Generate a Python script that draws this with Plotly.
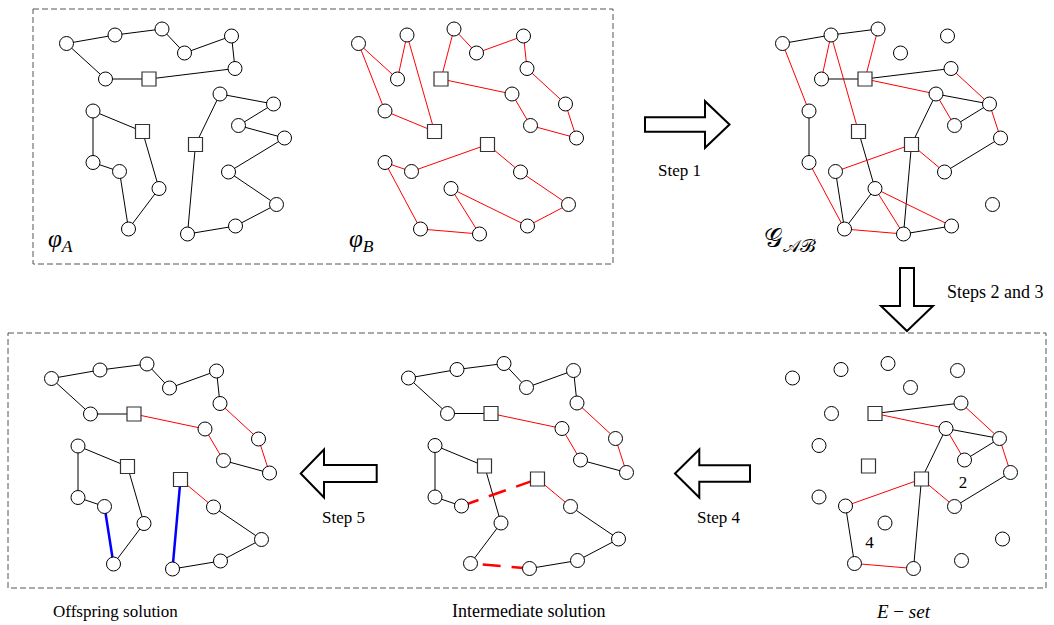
import plotly.graph_objects as go

# ---------------- data ----------------
# customer nodes (coordinates inside one panel, pixels)
cust_names = ["A1", "A2", "A3", "A4", "A5", "A6", "A7",
              "B1", "B2", "B3", "B4", "B5",
              "C1", "C2", "C3", "C4", "C5", "C6", "C7", "C8"]
cust_x = [66.5, 115, 162, 184.5, 231.5, 235, 105.5,
          93, 93, 119.5, 159, 128.5,
          220, 273.5, 238.5, 284.5, 228.5, 276.5, 235.5, 187.5]
cust_y = [43.5, 35, 29, 53, 36, 68.5, 79,
          111, 162.5, 171.5, 188.5, 229,
          94, 104, 125.5, 138, 172, 204.5, 226, 234]
# depots
depot_names = ["SA1", "SA2", "SA3"]
depot_x = [149, 142.5, 195.5]
depot_y = [79, 131.5, 144.5]

# panels and their offsets
panel_names = ["phiA", "phiB", "G", "E", "I", "O"]
panel_dx = [0, 292, 716, 726, 342, -15]
panel_dy = [0, 0, 0, 334.5, 334.5, 335]

# parent solutions (routes)
routes_A = [["SA1", "A6", "A5", "A4", "A3", "A2", "A1", "A7", "SA1"],
            ["SA2", "B1", "B2", "B3", "B5", "B4", "SA2"],
            ["SA3", "C1", "C2", "C3", "C4", "C5", "C6", "C7", "C8", "SA3"]]
routes_B = [["SA2", "B1", "A1", "A7", "A2", "SA2"],
            ["SA1", "A3", "A4", "A5", "A6", "C2", "C4", "C3", "C1", "SA1"],
            ["SA3", "C5", "C6", "C7", "B4", "C8", "B5", "B2", "B3", "SA3"]]

# E-set edges
eset_black = [("SA1", "A6"), ("C1", "C2"), ("C3", "C2"), ("C4", "C5"),
              ("SA3", "C1"), ("B3", "B5"), ("C8", "SA3")]
eset_red = [("A6", "C2"), ("SA1", "C1"), ("C1", "C3"), ("C2", "C4"),
            ("C5", "SA3"), ("SA3", "B3"), ("B5", "C8")]
eset_labels = ["2", "4"]
eset_label_x = [237, 143.5]
eset_label_y = [149.5, 209.5]

# intermediate solution edges
inter_black = [("SA1", "A7"), ("A7", "A1"), ("A1", "A2"), ("A2", "A3"), ("A3", "A4"),
               ("A4", "A5"), ("A5", "A6"), ("C4", "C3"), ("SA2", "B1"), ("B1", "B2"),
               ("B2", "B3"), ("C5", "C6"), ("C6", "C7"), ("C7", "C8"), ("B5", "B4"),
               ("B4", "SA2")]
inter_red = [("A6", "C2"), ("C2", "C4"), ("C3", "C1"), ("C1", "SA1"), ("SA3", "C5")]
inter_red_dash = [("B3", "SA3"), ("C8", "B5")]

# offspring solution edges
off_black = [("SA1", "A7"), ("A7", "A1"), ("A1", "A2"), ("A2", "A3"), ("A3", "A4"),
             ("A4", "A5"), ("A5", "A6"), ("C4", "C3"), ("SA2", "B1"), ("B1", "B2"),
             ("B2", "B3"), ("B5", "B4"), ("B4", "SA2"), ("C5", "C6"), ("C6", "C7"),
             ("C7", "C8")]
off_red = [("A6", "C2"), ("C2", "C4"), ("C3", "C1"), ("C1", "SA1"), ("SA3", "C5")]
off_blue = [("B3", "B5"), ("C8", "SA3")]

# ---------------- build ----------------
pos = {}
for n, x, y in zip(cust_names, cust_x, cust_y):
    pos[n] = (x, y)
for n, x, y in zip(depot_names, depot_x, depot_y):
    pos[n] = (x, y)
off = {p: (dx, dy) for p, dx, dy in zip(panel_names, panel_dx, panel_dy)}


def route_edges(routes):
    es = []
    for r in routes:
        for a, b in zip(r[:-1], r[1:]):
            es.append((a, b))
    return es


edges_A = route_edges(routes_A)
edges_B = route_edges(routes_B)
setA = {frozenset(e) for e in edges_A}
setB = {frozenset(e) for e in edges_B}
g_black = [e for e in edges_A if frozenset(e) not in setB]
g_red = [e for e in edges_B if frozenset(e) not in setA]

fig = go.Figure()


def add_edges(panel, edges, color, width, dash="solid"):
    dx, dy = off[panel]
    xs, ys = [], []
    for a, b in edges:
        xs += [pos[a][0] + dx, pos[b][0] + dx, None]
        ys += [pos[a][1] + dy, pos[b][1] + dy, None]
    fig.add_trace(go.Scatter(x=xs, y=ys, mode="lines",
                             line=dict(color=color, width=width, dash=dash),
                             hoverinfo="skip", showlegend=False))


add_edges("phiA", edges_A, "black", 1)
add_edges("phiB", edges_B, "#ff0000", 1)
add_edges("G", g_black, "black", 1)
add_edges("G", g_red, "#ff0000", 1)
add_edges("E", eset_black, "black", 1)
add_edges("E", eset_red, "#ff0000", 1)
add_edges("I", inter_black, "black", 1)
add_edges("I", inter_red, "#ff0000", 1)
add_edges("I", inter_red_dash, "#ff0000", 2.5, "18px,11px")
add_edges("O", off_black, "black", 1)
add_edges("O", off_red, "#ff0000", 1)
add_edges("O", off_blue, "#0000ff", 2.5)

for p in panel_names:
    dx, dy = off[p]
    fig.add_trace(go.Scatter(x=[x + dx for x in cust_x], y=[y + dy for y in cust_y],
                             mode="markers",
                             marker=dict(symbol="circle", size=14, color="white",
                                         line=dict(color="black", width=1)),
                             hoverinfo="skip", showlegend=False))
    fig.add_trace(go.Scatter(x=[x + dx for x in depot_x], y=[y + dy for y in depot_y],
                             mode="markers",
                             marker=dict(symbol="square", size=14, color="white",
                                         line=dict(color="#333333", width=1.2)),
                             hoverinfo="skip", showlegend=False))

# E-set route numbers
fig.add_trace(go.Scatter(x=[x + off["E"][0] for x in eset_label_x],
                         y=[y + off["E"][1] for y in eset_label_y],
                         mode="text", text=eset_labels,
                         textfont=dict(family="Liberation Serif", size=17, color="black"),
                         hoverinfo="skip", showlegend=False))

# dashed frames
shapes = [
    dict(type="rect", x0=33, y0=9, x1=613, y1=264, xref="x", yref="y",
         line=dict(color="#555555", width=1, dash="6px,3px")),
    dict(type="rect", x0=8, y0=333, x1=1046, y1=588, xref="x", yref="y",
         line=dict(color="#555555", width=1, dash="6px,3px")),
]


def arrow(tx, ty, direction, length, shaft_h, head_h, head_len):
    # build in local coords: tip at origin, arrow pointing +u
    pts = [(0, 0), (-head_len, head_h), (-head_len, shaft_h), (-length, shaft_h),
           (-length, -shaft_h), (-head_len, -shaft_h), (-head_len, -head_h)]
    out = []
    for u, v in pts:
        if direction == "right":
            out.append((tx + u, ty + v))
        elif direction == "left":
            out.append((tx - u, ty + v))
        elif direction == "down":
            out.append((tx + v, ty + u))
    path = "M " + " L ".join(f"{x:.1f},{y:.1f}" for x, y in out) + " Z"
    return dict(type="path", path=path, xref="x", yref="y",
                fillcolor="white", line=dict(color="black", width=2))


shapes.append(arrow(729.5, 124.5, "right", 84.5, 7.2, 23.3, 24.5))
shapes.append(arrow(907, 331, "down", 63, 7, 26, 25))
shapes.append(arrow(300.7, 473.5, "left", 76, 8.5, 24, 23.3))
shapes.append(arrow(675, 473.5, "left", 75, 8.3, 24, 24.3))

serif = "Liberation Serif"
annotations = [
    dict(x=679, y=170, text="Step 1", font=dict(size=17)),
    dict(x=995, y=292, text="Steps 2 and 3", font=dict(size=18)),
    dict(x=343, y=517, text="Step 5", font=dict(size=17)),
    dict(x=718, y=517, text="Step 4", font=dict(size=17)),
    dict(x=115, y=611, text="Offspring solution", font=dict(size=17)),
    dict(x=528, y=611, text="Intermediate solution", font=dict(size=18)),
    dict(x=903, y=611, text="<i>E</i> − <i>set</i>", font=dict(size=19)),
    dict(x=60, y=240, text="<i>φ</i><sub><i>A</i></sub>", font=dict(size=25)),
    dict(x=361, y=240, text="<i>φ</i><sub><i>B</i></sub>", font=dict(size=25)),
    dict(x=790, y=240, text="𝒢<sub>𝒜ℬ</sub>", font=dict(size=26)),
]
for a in annotations:
    a.update(xref="x", yref="y", showarrow=False)
    a["font"].update(family=serif, color="black")

fig.update_layout(
    width=1054, height=625,
    margin=dict(l=0, r=0, t=0, b=0),
    paper_bgcolor="white", plot_bgcolor="white",
    xaxis=dict(range=[0, 1054], visible=False, fixedrange=True),
    yaxis=dict(range=[625, 0], visible=False, fixedrange=True),
    shapes=shapes, annotations=annotations, showlegend=False,
)

fig.write_html("out.html", config={"displayModeBar": False},
               post_script="document.body.style.margin='0';document.body.style.overflow='hidden';")
